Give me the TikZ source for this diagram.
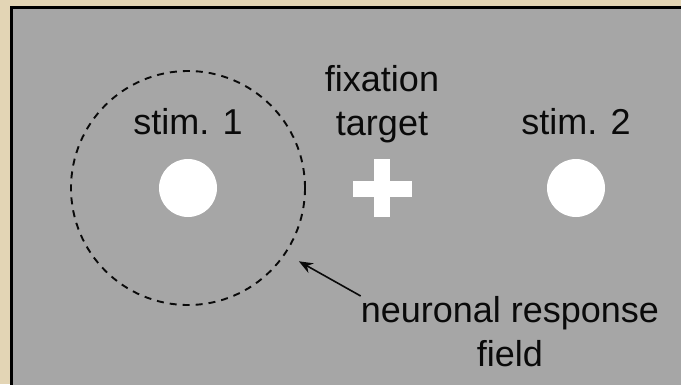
\documentclass[tikz,border=0pt]{standalone}
\usepackage{fontspec}
\setmainfont{Liberation Sans}
\usetikzlibrary{arrows.meta,positioning}
\definecolor{deskbg}{RGB}{227,213,181}
\definecolor{screenbg}{RGB}{166,166,166}
\definecolor{inkclr}{RGB}{10,10,10}
\tikzset{
  %% white stimulus disc
  stimdot/.style={circle,fill=white,minimum size=58pt,inner sep=0pt},
  %% fixation cross bar
  fixbar/.style={rectangle,fill=white,inner sep=0pt},
  %% response field outline
  rfring/.style={circle,draw=inkclr,dash pattern=on 7pt off 6pt,
    line width=1.9pt,minimum size=234pt,inner sep=0pt},
  %% labels
  lbl/.style={font=\fontsize{36}{44}\selectfont,align=center,
    inner sep=0pt,text=inkclr},
  %% pointer arrow
  ptr/.style={-{Stealth[length=14pt,width=11pt]},line width=1.6pt,color=inkclr},
}

\begin{document}
\begin{tikzpicture}[x=1pt,y=-1pt]

  %% backdrop and screen
  \useasboundingbox (0,0) rectangle (681,384);
  \fill[deskbg] (0,0) rectangle (681,384);
  \begin{scope}
    \clip (0,0) rectangle (681,384);
    \draw[line width=3pt,fill=screenbg] (11.5,7.5) rectangle (700,400);
  \end{scope}

  %% stimuli and fixation cross
  \node[stimdot] (stimA) at (188,188) {};
  \node[rfring]  (rf)    at (188,188) {};
  \node[fixbar,minimum width=59pt,minimum height=16pt] (fixH) at (382,189) {};
  \node[fixbar,minimum width=16pt,minimum height=58pt] (fixV) at (382,188) {};
  \node[stimdot] (stimB) at (576,188) {};

  %% labels
  \node[lbl,above=24pt of stimA] (labA) {stim. 1};
  \node[lbl,above=24pt of stimB] (labB) {stim. 2};
  \node[lbl,above=16pt of fixV]  (labF) {fixation\\target};
  \node[lbl,anchor=north] (labRF) at (510,296) {neuronal response\\field};

  %% pointer to the field
  \draw[ptr,shorten >=15pt] (labRF.north west) -- (rf.-34);

\end{tikzpicture}
\end{document}
